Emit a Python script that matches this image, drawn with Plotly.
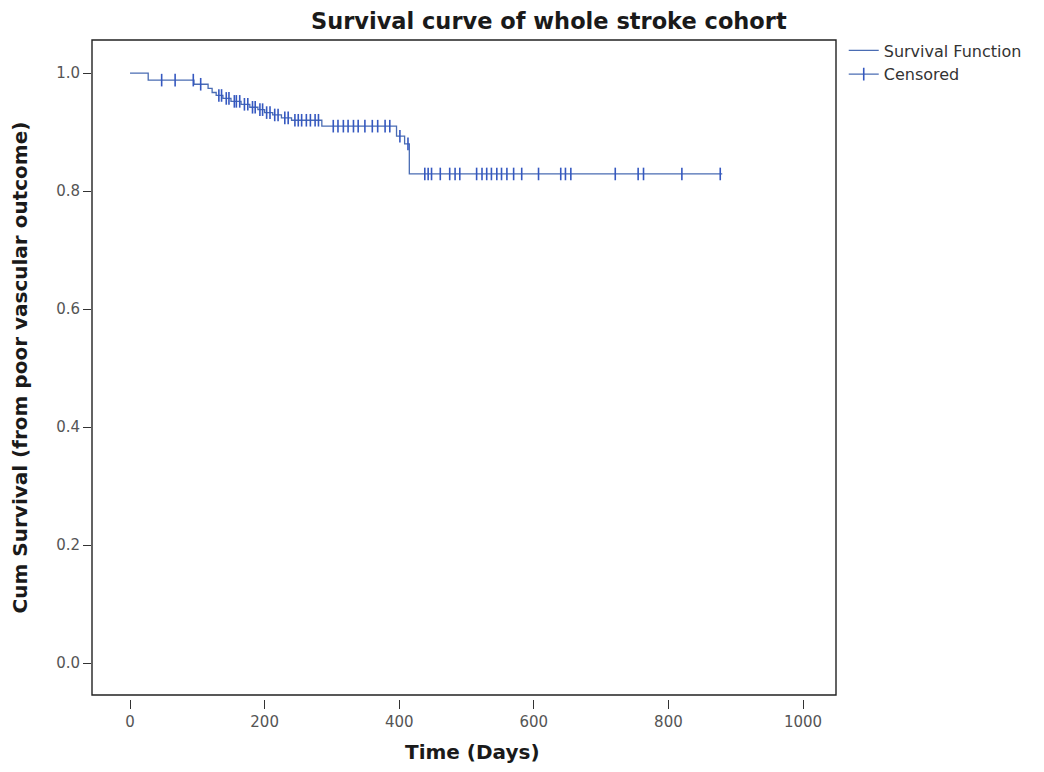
import plotly.graph_objects as go

# Survival function: times at which the curve steps down, and the new survival value
step_times = [0, 27, 95, 116, 122, 128, 138, 150, 165, 178, 190, 200, 212, 225, 240, 285, 396, 408, 415]
step_surv = [1.0, 0.988, 0.981, 0.974, 0.967, 0.962, 0.957, 0.952, 0.947, 0.942, 0.938, 0.933,
             0.929, 0.924, 0.920, 0.910, 0.893, 0.880, 0.829]
end_time = 880

# Censored observation times
censor_times = [47, 67, 94, 105, 132, 136, 143, 147, 155, 158, 163, 170, 175, 182, 186, 193, 197,
                203, 208, 215, 220, 230, 235, 245, 250, 255, 262, 268, 275, 280,
                302, 309, 317, 324, 332, 339, 349, 360, 368, 379, 386, 401, 413,
                438, 443, 448, 461, 475, 483, 490, 515, 523, 530, 537, 545, 552, 560, 570, 582,
                607, 640, 647, 655, 721, 755, 763, 820, 877]

x_ticks = [0, 200, 400, 600, 800, 1000]
y_ticks = [0.0, 0.2, 0.4, 0.6, 0.8, 1.0]


def surv_at(t):
    s = step_surv[0]
    for tt, ss in zip(step_times, step_surv):
        if tt <= t:
            s = ss
    return s


# build the step line
lx, ly = [], []
for i, (t, s) in enumerate(zip(step_times, step_surv)):
    if i > 0:
        lx.append(t)
        ly.append(step_surv[i - 1])
    lx.append(t)
    ly.append(s)
lx.append(end_time)
ly.append(step_surv[-1])

cy = [surv_at(t) for t in censor_times]

line_col = "#4a6cb3"
mark_col = "#3558c0"
font = "DejaVu Sans, Liberation Sans, sans-serif"

fig = go.Figure()
fig.add_trace(go.Scatter(x=lx, y=ly, mode="lines", line=dict(color=line_col, width=1.3),
                         name="Survival Function"))
fig.add_trace(go.Scatter(x=censor_times, y=cy, mode="markers", showlegend=False,
                         marker=dict(symbol="line-ns-open", size=9, color=mark_col,
                                     line=dict(color=mark_col, width=1.6))))
fig.add_trace(go.Scatter(x=[None], y=[None], mode="lines+markers", name="Censored",
                         line=dict(color=line_col, width=1.3),
                         marker=dict(symbol="line-ns-open", size=9, color=mark_col,
                                     line=dict(color=mark_col, width=1.6))))

fig.add_shape(type="rect", xref="x domain", yref="y domain", x0=0, x1=1, y0=0, y1=1,
              line=dict(color="#222222", width=1.4), fillcolor="rgba(0,0,0,0)")

fig.add_annotation(text="<b>Time (Days)</b>", xref="paper", yref="paper",
                   x=(472 - 92) / 744, y=-(752 - 8 - 691) / 659,
                   xanchor="center", yanchor="middle", showarrow=False,
                   font=dict(family=font, size=20, color="#1a1a1a"))

fig.update_layout(
    width=1044, height=772,
    margin=dict(l=84, r=216, t=32, b=81, autoexpand=False),
    paper_bgcolor="white", plot_bgcolor="white",
    font=dict(family=font, color="#555555", size=15),
    title=dict(text="<b>Survival curve of whole stroke cohort</b>",
               font=dict(family=font, size=22.5, color="#1a1a1a"),
               x=0.614, xref="paper", xanchor="center",
               y=1 - 13 / 772, yref="container", yanchor="middle"),
    xaxis=dict(range=[-56.5, 1049], tickvals=x_ticks, ticktext=[str(v) for v in x_ticks],
               showgrid=False, zeroline=False, showline=False, automargin=False,
               ticks="outside", ticklen=9, tickwidth=1.4, tickcolor="#333333",
               anchor="free", position=0,
               tickfont=dict(size=15, color="#555555")),
    yaxis=dict(range=[-0.054, 1.056], domain=[0.006, 1], tickvals=y_ticks,
               ticktext=["0.0", "0.2", "0.4", "0.6", "0.8", "1.0"],
               showgrid=False, zeroline=False, showline=False, automargin=False,
               ticks="outside", ticklen=8, tickwidth=1.4, tickcolor="#333333",
               tickfont=dict(size=15, color="#555555"),
               title=dict(text="<b>Cum Survival (from poor vascular outcome)</b>",
                          font=dict(size=20, color="#1a1a1a"), standoff=32)),
    legend=dict(x=1.0104, xanchor="left", y=1.01, yanchor="top",
                font=dict(size=16, color="#333333"), bgcolor="rgba(0,0,0,0)",
                tracegroupgap=0, itemwidth=30),
    showlegend=True,
)

fig.write_html("out.html")
